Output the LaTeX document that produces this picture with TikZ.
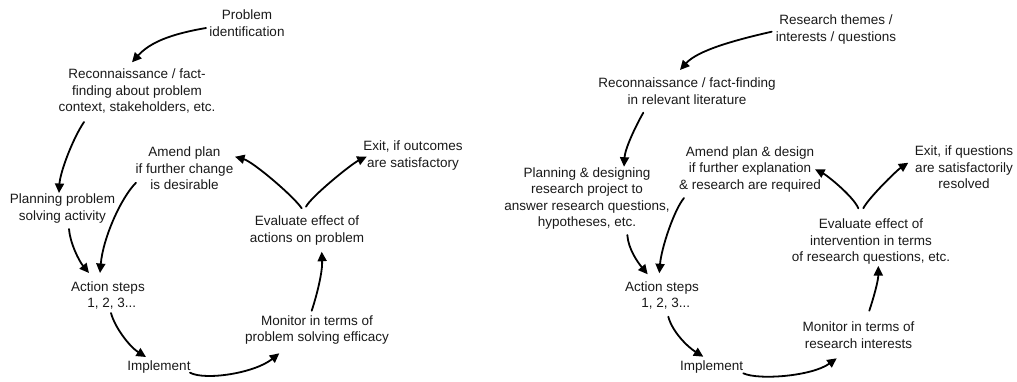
\documentclass[tikz,border=0pt]{standalone}
\usepackage{fontspec}
\setmainfont{Liberation Sans}
\usetikzlibrary{arrows.meta}
\tikzset{
  lbl/.style={align=center, font=\fontsize{13.5}{16.5}\selectfont, inner sep=1pt, text=black!90},
  arr/.style={-{Triangle[length=9.5pt,width=9pt]}, line width=1.8pt, line cap=round},
}
\begin{document}
\begin{tikzpicture}[x=1pt,y=-1pt]
\useasboundingbox (0,0) rectangle (1017,381);
% ---------- left cycle ----------
\node[lbl] (prob)    at (247,23.3)  {Problem\\identification};
\node[lbl] (recon)   at (137,91.3)  {Reconnaissance / fact-\\finding about problem\\context, stakeholders, etc.};
\node[lbl] (plan)    at (62.5,208.7){Planning problem\\solving activity};
\node[lbl] (amend)   at (184.5,168.5){Amend plan\\if further change\\is desirable};
\node[lbl] (exit)    at (413,155.3) {Exit, if outcomes\\are satisfactory};
\node[lbl] (eval)    at (307,230.5) {Evaluate effect of\\actions on problem};
\node[lbl] (action)  at (108,295.5) {Action steps\\\ \ 1, 2, 3...};
\node[lbl] (monitor) at (317,330)   {Monitor in terms of\\problem solving efficacy};
\node[lbl] (impl)    at (159,367)   {Implement};

\draw[arr] ([shift={(-41,4.7)}]prob.center) .. controls +(-35,6) and +(18,-20) .. ([shift={(-5,-29)}]recon.center);
\draw[arr] ([shift={(-53,30.7)}]recon.center) .. controls +(-12,18) and +(1,-20) .. ([shift={(-3.5,-15.7)}]plan.center);
\draw[arr] ([shift={(6.5,20.3)}]plan.center) .. controls +(1,14) and +(-10,-12) .. ([shift={(-19,-22.5)}]action.center);
\draw[arr] ([shift={(-48.5,14.2)}]amend.center) .. controls +(-15,15) and +(3,-35) .. ([shift={(-8,-22.5)}]action.center);
\draw[arr] ([shift={(3,17.5)}]action.center) .. controls +(4,15) and +(-16,-10) .. ([shift={(-13,-10)}]impl.center);
\draw[arr] ([shift={(31,5.7)}]impl.center) .. controls +(15,8) and +(-25,20) .. ([shift={(-37.7,23.3)}]monitor.center);
\draw[arr] ([shift={(-5.3,-19.3)}]monitor.center) .. controls +(5,-15) and +(1,20) .. ([shift={(14.7,21.2)}]eval.center);
\draw[arr] ([shift={(-5.3,-22.2)}]eval.center) .. controls +(-8,-12) and +(18,5) .. ([shift={(50.5,-11.8)}]amend.center);
\draw[arr] ([shift={(-1,-23.8)}]eval.center) .. controls +(5,-10) and +(-15,7) .. ([shift={(-46.3,1.4)}]exit.center);

% ---------- right cycle ----------
\node[lbl] (themes)   at (836,29.5)   {Research themes /\\interests / questions};
\node[lbl] (recon2)   at (687,91)     {Reconnaissance / fact-finding\\in relevant literature};
\node[lbl] (plan2)    at (587,198.3)  {Planning \& designing\\research project to\\answer research questions,\\hypotheses, etc.};
\node[lbl] (amend2)   at (750,169.5)  {Amend plan \& design\\if further explanation\\\& research are required};
\node[lbl] (exit2)    at (964,167.5)  {Exit, if questions\\are satisfactorily\\resolved};
\node[lbl] (eval2)    at (871,241.7)  {Evaluate effect of\\intervention in terms\\of research questions, etc.};
\node[lbl] (action2)  at (662,295.5)  {Action steps\\\ \ 1, 2, 3...};
\node[lbl] (monitor2) at (858.5,335)  {Monitor in terms of\\research interests};
\node[lbl] (impl2)    at (711.7,366.7){Implement};

\draw[arr] ([shift={(-64.3,2.2)}]themes.center) .. controls +(-35,8) and +(18,-20) .. ([shift={(-7,-21)}]recon2.center);
\draw[arr] ([shift={(-43.7,21.7)}]recon2.center) .. controls +(-8,14) and +(1,-18) .. ([shift={(37,-31.6)}]plan2.center);
\draw[arr] ([shift={(40.3,36.7)}]plan2.center) .. controls +(1,14) and +(-10,-12) .. ([shift={(-14.3,-21.2)}]action2.center);
\draw[arr] ([shift={(-66,28.5)}]amend2.center) .. controls +(-10,12) and +(2,-25) .. ([shift={(-2.7,-22.2)}]action2.center);
\draw[arr] ([shift={(6.3,21.2)}]action2.center) .. controls +(4,15) and +(-16,-10) .. ([shift={(-8.4,-10)}]impl2.center);
\draw[arr] ([shift={(31.6,6.6)}]impl2.center) .. controls +(15,7) and +(-25,18) .. ([shift={(-21.8,23.3)}]monitor2.center);
\draw[arr] ([shift={(10.8,-24.3)}]monitor2.center) .. controls +(4,-12) and +(0,15) .. ([shift={(7.3,24.3)}]eval2.center);
\draw[arr] ([shift={(-12.7,-33.4)}]eval2.center) .. controls +(-5,-12) and +(12,6) .. ([shift={(65,-0.2)}]amend2.center);
\draw[arr] ([shift={(-7.7,-33.4)}]eval2.center) .. controls +(5,-10) and +(-12,8) .. ([shift={(-55.7,-4.8)}]exit2.center);
\end{tikzpicture}
\end{document}
